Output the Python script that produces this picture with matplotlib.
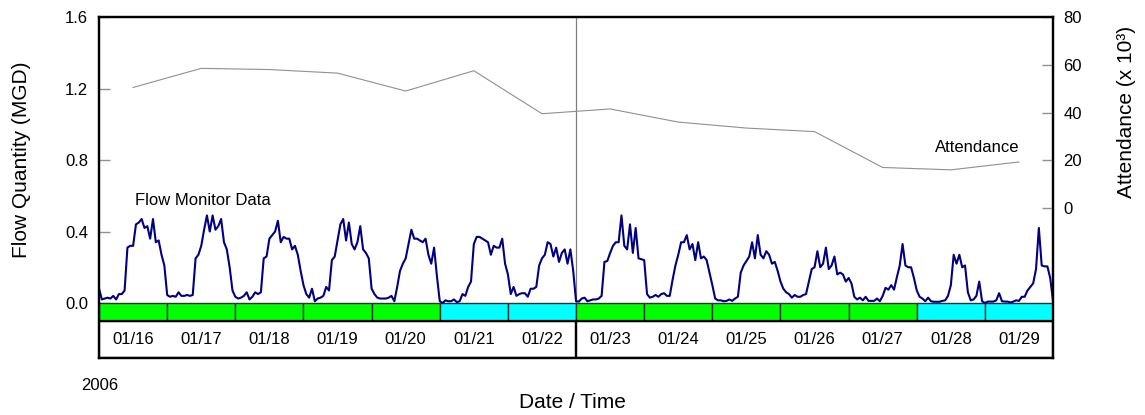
import numpy as np
import matplotlib
matplotlib.use('Agg')
import matplotlib.pyplot as plt

plt.rcParams['font.family'] = ['Liberation Sans', 'DejaVu Sans']

# Day labels and day type (weekday / weekend)
days = ['01/16', '01/17', '01/18', '01/19', '01/20', '01/21', '01/22',
        '01/23', '01/24', '01/25', '01/26', '01/27', '01/28', '01/29']
weekend = [False, False, False, False, False, True, True,
           False, False, False, False, False, True, True]

# Attendance (x 10^3), one value per day
attendance = [50.5, 58.5, 58.0, 56.5, 49.0, 57.5, 39.5,
              41.5, 36.0, 33.5, 32.0, 17.0, 16.0, 19.3]

# Hourly flow (MGD), one list per day
flow_0116 = [0.08, 0.02, 0.025, 0.03, 0.025, 0.04, 0.02, 0.05, 0.05, 0.07, 0.31, 0.32,
             0.32, 0.44, 0.45, 0.47, 0.42, 0.43, 0.36, 0.47, 0.34, 0.35, 0.27, 0.21]
flow_0117 = [0.045, 0.035, 0.04, 0.035, 0.06, 0.04, 0.04, 0.045, 0.04, 0.045, 0.25, 0.27,
             0.32, 0.41, 0.49, 0.40, 0.49, 0.41, 0.43, 0.47, 0.34, 0.30, 0.20, 0.07]
flow_0118 = [0.035, 0.025, 0.03, 0.04, 0.06, 0.02, 0.035, 0.06, 0.05, 0.06, 0.25, 0.26,
             0.36, 0.38, 0.40, 0.46, 0.34, 0.37, 0.36, 0.36, 0.30, 0.32, 0.27, 0.18]
flow_0119 = [0.10, 0.05, 0.03, 0.08, 0.01, 0.025, 0.03, 0.04, 0.09, 0.07, 0.24, 0.26,
             0.35, 0.44, 0.47, 0.35, 0.45, 0.33, 0.30, 0.34, 0.43, 0.30, 0.28, 0.25]
flow_0120 = [0.08, 0.05, 0.03, 0.025, 0.025, 0.025, 0.03, 0.04, 0.01, 0.09, 0.18, 0.22,
             0.25, 0.33, 0.41, 0.36, 0.36, 0.35, 0.34, 0.36, 0.27, 0.22, 0.31, 0.15]
flow_0121 = [0.01, 0.0, 0.015, 0.01, 0.01, 0.02, 0.005, 0.01, 0.05, 0.04, 0.09, 0.12,
             0.33, 0.37, 0.37, 0.36, 0.35, 0.34, 0.27, 0.32, 0.31, 0.31, 0.36, 0.22]
flow_0122 = [0.16, 0.05, 0.09, 0.04, 0.05, 0.055, 0.055, 0.035, 0.08, 0.08, 0.09, 0.21,
             0.25, 0.27, 0.34, 0.33, 0.26, 0.31, 0.23, 0.28, 0.30, 0.22, 0.30, 0.18]
flow_0123 = [0.01, 0.008, 0.025, 0.03, 0.01, 0.015, 0.02, 0.02, 0.025, 0.04, 0.23, 0.235,
             0.28, 0.32, 0.34, 0.34, 0.49, 0.32, 0.30, 0.44, 0.28, 0.42, 0.25, 0.245]
flow_0124 = [0.24, 0.05, 0.03, 0.035, 0.045, 0.035, 0.05, 0.055, 0.04, 0.04, 0.13, 0.21,
             0.27, 0.34, 0.34, 0.38, 0.30, 0.33, 0.24, 0.34, 0.25, 0.26, 0.24, 0.17]
flow_0125 = [0.10, 0.025, 0.015, 0.015, 0.01, 0.012, 0.02, 0.012, 0.025, 0.035, 0.17, 0.21,
             0.235, 0.26, 0.34, 0.25, 0.38, 0.27, 0.25, 0.29, 0.27, 0.22, 0.23, 0.18]
flow_0126 = [0.12, 0.08, 0.06, 0.05, 0.03, 0.045, 0.035, 0.035, 0.045, 0.05, 0.12, 0.19,
             0.20, 0.29, 0.20, 0.22, 0.31, 0.19, 0.21, 0.26, 0.16, 0.17, 0.16, 0.12]
flow_0127 = [0.14, 0.11, 0.035, 0.02, 0.03, 0.015, 0.035, 0.012, 0.012, 0.012, 0.025, 0.01,
             0.04, 0.085, 0.075, 0.10, 0.075, 0.145, 0.21, 0.33, 0.21, 0.20, 0.20, 0.14]
flow_0128 = [0.07, 0.035, 0.025, 0.01, 0.03, 0.01, 0.007, 0.007, 0.007, 0.012, 0.015, 0.04,
             0.10, 0.27, 0.22, 0.27, 0.20, 0.21, 0.06, 0.015, 0.02, 0.04, 0.12, 0.01]
flow_0129 = [0.0, 0.008, 0.008, 0.008, 0.015, 0.055, 0.01, 0.008, 0.008, 0.003, 0.008, 0.015,
             0.012, 0.035, 0.035, 0.07, 0.09, 0.11, 0.19, 0.42, 0.21, 0.205, 0.205, 0.14]
flow_end = [0.01]

flow = np.array(flow_0116 + flow_0117 + flow_0118 + flow_0119 + flow_0120 + flow_0121 +
                flow_0122 + flow_0123 + flow_0124 + flow_0125 + flow_0126 + flow_0127 +
                flow_0128 + flow_0129 + flow_end)
t = np.arange(len(flow)) / 24.0

ylo = -0.3077
fig = plt.figure(figsize=(11.45, 4.15), dpi=100)
ax = fig.add_axes([0.0865, 0.1373, 0.8332, 0.8217])
ax.set_xlim(0, 14)
ax.set_ylim(ylo, 1.6)

# day colour band
x = np.arange(len(days)) + 0.5
cols = ['#00FFFF' if w else '#00FF00' for w in weekend]
ax.bar(x, -0.1, width=1, bottom=0, color=cols, edgecolor='#333333', linewidth=1.0, zorder=2)
# date label boxes (one per week)
ax.bar([3.5, 10.5], 0.1 + ylo, width=7, bottom=-0.1, fill=False,
       edgecolor='black', linewidth=1.6, zorder=3)
for xi, d in zip(x, days):
    ax.text(xi, -0.205, d, ha='center', va='center', fontsize=12)

ax.vlines(7, 0, 1.6, color='#808080', linewidth=0.9, zorder=1)
ax.plot(t, flow, color='#000080', linewidth=1.5, zorder=4)

ax.set_yticks([0.0, 0.4, 0.8, 1.2, 1.6])
ax.set_yticklabels(['0.0', '0.4', '0.8', '1.2', '1.6'])
ax.tick_params(axis='y', direction='in', length=8, width=1, color='#909090',
               labelsize=12, pad=8)
ax.set_xticks([])
for s in ax.spines.values():
    s.set_linewidth(1.6)

ax2 = ax.twinx()
ax2.set_ylim(-62.8, 80)
ax2.plot(x, attendance, color='#909090', linewidth=0.8, zorder=1)
ax2.set_yticks([0, 20, 40, 60, 80])
ax2.tick_params(axis='y', direction='in', length=8, width=1, color='#909090',
                labelsize=12, pad=7.5)
for s in ax2.spines.values():
    s.set_linewidth(1.6)

ax.text(0.53, 0.575, 'Flow Monitor Data', fontsize=12, ha='left', va='center')
ax2.text(12.26, 25.5, 'Attendance', fontsize=12, ha='left', va='center')

fig.text(0.0192, 0.614, 'Flow Quantity (MGD)', rotation=90, fontsize=15,
         ha='center', va='center')
fig.text(0.9835, 0.730, 'Attendance (x 10\u00b3)', rotation=90, fontsize=15,
         ha='center', va='center')
fig.text(0.4996, 0.029, 'Date / Time', fontsize=15, ha='center', va='center')
fig.text(0.0873, 0.072, '2006', fontsize=12, ha='center', va='center')

fig.savefig('out.png', dpi=100)
